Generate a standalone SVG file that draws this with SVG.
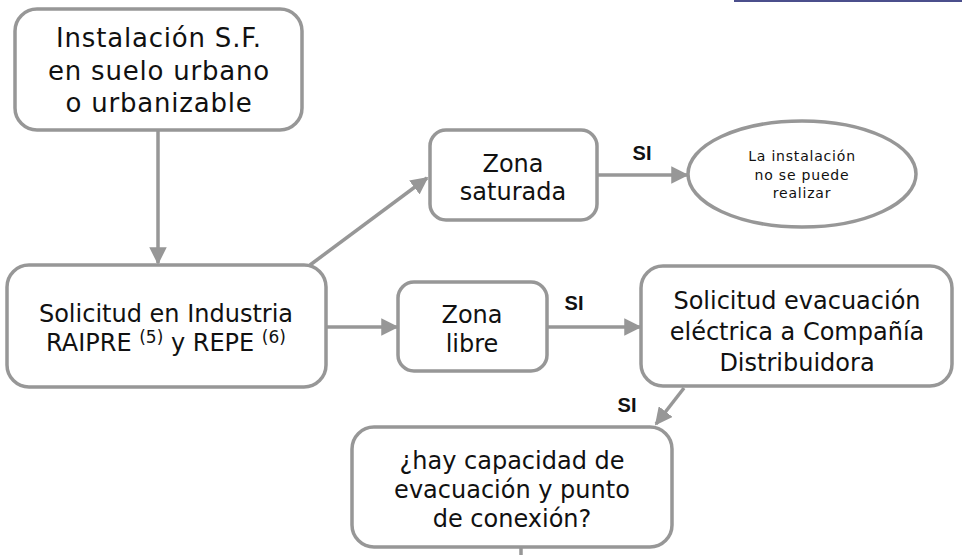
<svg xmlns="http://www.w3.org/2000/svg" width="962" height="555" viewBox="0 0 962 555">
<defs>
<style>
.box{fill:#fff;stroke:#979797;stroke-width:3.5}
.t{font-family:"DejaVu Sans",Verdana,sans-serif;font-size:24px;fill:#111;text-anchor:middle}
.tb{font-family:"DejaVu Sans",Verdana,sans-serif;font-size:26px;letter-spacing:0.8px;fill:#111;text-anchor:middle}
.ts{font-family:"DejaVu Sans",Verdana,sans-serif;font-size:14px;letter-spacing:0.8px;fill:#111;text-anchor:middle}
.sup{font-size:17px}
.si{font-family:"Liberation Sans",Arial,sans-serif;font-size:20px;font-weight:bold;fill:#111;text-anchor:middle}
.c{fill:none;stroke:#979797;stroke-width:3.5}
</style>
<marker id="ah" viewBox="0 0 10 10" refX="9" refY="5" markerWidth="5" markerHeight="5" markerUnits="strokeWidth" orient="auto">
<path d="M0,0 L10,5 L0,10 z" fill="#979797"/>
</marker>
</defs>
<rect x="734" y="0" width="228" height="2" fill="#4b4f8c"/>
<g id="connectors">
<line class="c" x1="158" y1="130" x2="158" y2="263" marker-end="url(#ah)"/>
<line class="c" x1="310" y1="265" x2="427" y2="178" marker-end="url(#ah)"/>
<line class="c" x1="326" y1="327" x2="397" y2="327" marker-end="url(#ah)"/>
<line class="c" x1="597" y1="175" x2="687" y2="175" marker-end="url(#ah)"/>
<line class="c" x1="547" y1="327" x2="640" y2="327" marker-end="url(#ah)"/>
<line class="c" x1="684" y1="388" x2="656" y2="424" marker-end="url(#ah)"/>
<line class="c" x1="521" y1="547" x2="521" y2="555"/>
<text class="si" x="642" y="160">SI</text>
<text class="si" x="574" y="310">SI</text>
<text class="si" x="627" y="412">SI</text>
</g>
<g id="n1">
<rect class="box" x="15" y="9" width="287" height="121" rx="22"/>
<text class="tb" x="159" y="47">Instalación S.F.</text>
<text class="tb" x="159" y="80">en suelo urbano</text>
<text class="tb" x="159" y="112">o urbanizable</text>
</g>
<g id="n2">
<rect class="box" x="7" y="265" width="319" height="122" rx="22"/>
<text class="t" x="166" y="322">Solicitud en Industria</text>
<text class="t" x="166" y="351">RAIPRE <tspan class="sup" dy="-8">(5)</tspan><tspan dy="8"> y REPE </tspan><tspan class="sup" dy="-8">(6)</tspan></text>
</g>
<g id="n3">
<rect class="box" x="430" y="130" width="167" height="90" rx="16"/>
<text class="t" x="513" y="172">Zona</text>
<text class="t" x="513" y="200">saturada</text>
</g>
<g id="n4">
<ellipse class="box" cx="802" cy="174" rx="114" ry="53"/>
<text class="ts" x="802" y="161">La instalación</text>
<text class="ts" x="802" y="180">no se puede</text>
<text class="ts" x="802" y="198">realizar</text>
</g>
<g id="n5">
<rect class="box" x="398" y="282" width="149" height="89" rx="16"/>
<text class="t" x="472" y="323">Zona</text>
<text class="t" x="472" y="352">libre</text>
</g>
<g id="n6">
<rect class="box" x="641" y="266" width="311" height="120" rx="22"/>
<text class="t" x="797" y="309">Solicitud evacuación</text>
<text class="t" x="797" y="340">eléctrica a Compañía</text>
<text class="t" x="797" y="371">Distribuidora</text>
</g>
<g id="n7">
<rect class="box" x="352" y="427" width="320" height="120" rx="22"/>
<text class="t" x="512" y="469">¿hay capacidad de</text>
<text class="t" x="512" y="498">evacuación y punto</text>
<text class="t" x="512" y="527">de conexión?</text>
</g>
</svg>
